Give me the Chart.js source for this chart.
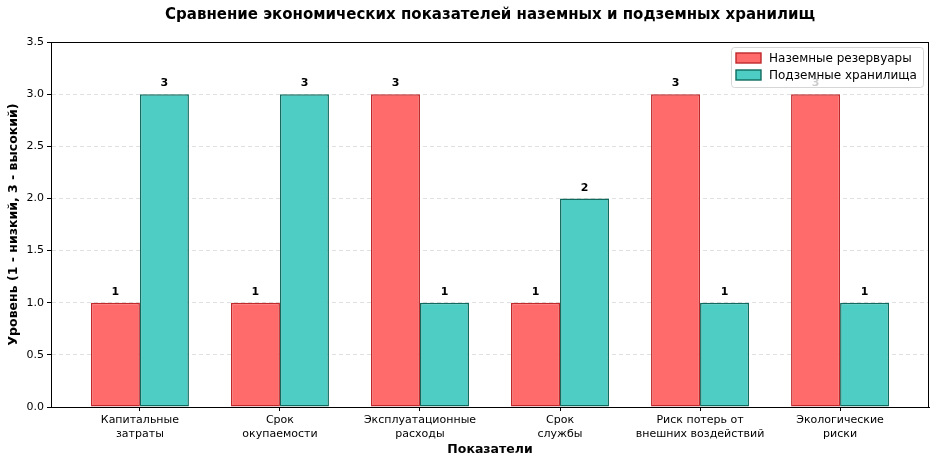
<!DOCTYPE html>
<html>
<head>
<meta charset="utf-8">
<script src="https://cdn.jsdelivr.net/npm/chart.js@4"></script>
<style>
  body { margin: 0; background: #fff; }
  canvas { display: block; }
</style>
</head>
<body>
<canvas id="myChart" width="936" height="466"></canvas>
<script>
var categories = [
  ['Капитальные', 'затраты'],
  ['Срок', 'окупаемости'],
  ['Эксплуатационные', 'расходы'],
  ['Срок', 'службы'],
  ['Риск потерь от', 'внешних воздействий'],
  ['Экологические', 'риски']
];
var surfaceValues = [1, 1, 3, 1, 3, 3];
var undergroundValues = [3, 3, 1, 2, 1, 1];
var seriesNames = ['Наземные резервуары', 'Подземные хранилища'];
var yTicks = [0, 0.5, 1, 1.5, 2, 2.5, 3, 3.5];

var FONT = "'DejaVu Sans', sans-serif";
var fillColors = ['#FF6B6B', '#4ECDC4'];
var edgeColors = ['#C0282B', '#106B5E'];

function points(vals) {
  return vals.map(function (v, i) { return { x: i, y: v }; });
}

// title, axis titles, frame, value labels, legend
var extras = {
  id: 'extras',
  afterDatasetsDraw: function (chart) {
    var c = chart.ctx, y = chart.scales.y;
    c.save();
    c.font = 'bold 11px ' + FONT;
    c.fillStyle = '#000';
    c.textAlign = 'center';
    c.textBaseline = 'bottom';
    chart.data.datasets.forEach(function (ds, di) {
      chart.getDatasetMeta(di).data.forEach(function (bar, i) {
        var v = ds.data[i].y;
        c.fillText(String(v), bar.x, y.getPixelForValue(v + 0.05));
      });
    });
    c.restore();
  },
  afterDraw: function (chart) {
    var c = chart.ctx, a = chart.chartArea;
    c.save();
    // frame
    c.strokeStyle = '#000';
    c.lineWidth = 1;
    c.strokeRect(a.left + 0.5, a.top + 0.5, a.right - a.left - 1, a.bottom - a.top);
    // title
    c.fillStyle = '#000';
    c.textAlign = 'center';
    c.textBaseline = 'middle';
    c.font = 'bold 15px ' + FONT;
    c.fillText('Сравнение экономических показателей наземных и подземных хранилищ', (a.left + a.right) / 2, 15);
    c.font = 'bold 12.5px ' + FONT;
    c.fillText('Показатели', (a.left + a.right) / 2, 450);
    c.save();
    c.translate(14, (a.top + a.bottom) / 2);
    c.rotate(-Math.PI / 2);
    c.font = 'bold 12.5px ' + FONT;
    c.fillText('Уровень (1 - низкий, 3 - высокий)', 0, 0);
    c.restore();
    // legend
    var lx = 731, ly = 47, lw = 192, lh = 40;
    c.fillStyle = 'rgba(255,255,255,0.8)';
    c.strokeStyle = '#d6d6d6';
    c.beginPath();
    c.roundRect(lx + 0.5, ly + 0.5, lw, lh, 3);
    c.fill();
    c.stroke();
    c.font = '12px ' + FONT;
    c.textAlign = 'left';
    seriesNames.forEach(function (name, i) {
      var cy = ly + 11 + i * 17;
      c.fillStyle = fillColors[i];
      c.fillRect(736, cy - 5, 25, 10);
      c.strokeStyle = edgeColors[i];
      c.lineWidth = 1.4;
      c.strokeRect(736, cy - 5, 25, 10);
      c.fillStyle = '#000';
      c.fillText(name, 769, cy + 1);
    });
    c.restore();
  }
};

var ctx = document.getElementById('myChart').getContext('2d');
var myChart = new Chart(ctx, {
  type: 'bar',
  data: {
    datasets: [{
      label: seriesNames[0],
      data: points(surfaceValues),
      backgroundColor: fillColors[0],
      borderColor: edgeColors[0],
      borderWidth: 1.5,
      borderSkipped: false
    }, {
      label: seriesNames[1],
      data: points(undergroundValues),
      backgroundColor: fillColors[1],
      borderColor: edgeColors[1],
      borderWidth: 1.5,
      borderSkipped: false
    }]
  },
  options: {
    responsive: false,
    animation: false,
    devicePixelRatio: 1,
    categoryPercentage: 0.7,
    barPercentage: 1.0,
    layout: { padding: { left: 0, right: 7, top: 42, bottom: 0 } },
    plugins: {
      legend: { display: false },
      tooltip: { enabled: false }
    },
    scales: {
      x: {
        type: 'linear',
        offset: false,
        min: -0.635,
        max: 5.635,
        afterFit: function (s) { s.height = 59; },
        afterBuildTicks: function (s) {
          s.ticks = categories.map(function (c, i) { return { value: i }; });
        },
        grid: { display: true, offset: false, drawOnChartArea: false, drawTicks: true, tickLength: 4, color: '#000' },
        border: { color: '#000' },
        ticks: {
          font: { family: FONT, size: 11 },
          color: '#000',
          padding: 3,
          maxRotation: 0,
          autoSkip: false,
          callback: function (v) { return categories[v]; }
        }
      },
      y: {
        min: 0,
        max: 3.5,
        afterFit: function (s) { s.width = 51; },
        afterBuildTicks: function (s) {
          s.ticks = yTicks.map(function (v) { return { value: v }; });
        },
        grid: {
          color: 'rgba(0,0,0,0.12)',
          tickColor: '#000',
          tickLength: 4,
          tickBorderDash: []
        },
        border: { color: '#000', dash: [4, 3] },
        ticks: {
          font: { family: FONT, size: 11 },
          color: '#000',
          padding: 3,
          callback: function (v) { return v.toFixed(1); }
        }
      }
    }
  },
  plugins: [extras]
});
</script>
</body>
</html>
